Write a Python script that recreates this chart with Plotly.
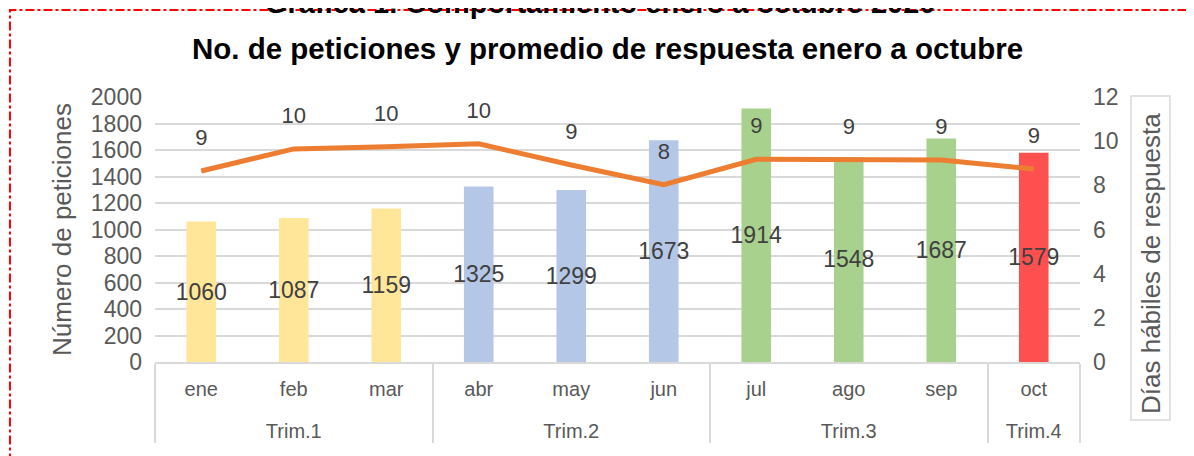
import plotly.graph_objects as go
from plotly.subplots import make_subplots

trimestres = ["Trim.1", "Trim.1", "Trim.1", "Trim.2", "Trim.2", "Trim.2",
              "Trim.3", "Trim.3", "Trim.3", "Trim.4"]
meses = ["ene", "feb", "mar", "abr", "may", "jun", "jul", "ago", "sep", "oct"]
peticiones = [1060, 1087, 1159, 1325, 1299, 1673, 1914, 1548, 1687, 1579]
dias_respuesta = [8.65, 9.65, 9.75, 9.88, 8.92, 8.03, 9.18, 9.14, 9.15, 8.74]
colores_trim = {"Trim.1": "#FFE699", "Trim.2": "#B4C7E7",
                "Trim.3": "#A9D18E", "Trim.4": "#FF5050"}

FONT = "Liberation Sans, Arial, sans-serif"
GRAY = "#595959"
DARK = "#404040"

x = [["<br>" + t for t in trimestres], meses]

fig = make_subplots(specs=[[{"secondary_y": True}]])

fig.add_trace(go.Bar(
    x=x, y=peticiones,
    marker=dict(color=[colores_trim[t] for t in trimestres], line=dict(width=0)),
    width=0.32,
    text=[str(v) for v in peticiones],
    textposition="inside", insidetextanchor="middle", textangle=0,
    constraintext="none",
    textfont=dict(family=FONT, size=23, color=DARK),
    hoverinfo="skip", showlegend=False,
), secondary_y=False)

fig.add_trace(go.Scatter(
    x=x, y=dias_respuesta, mode="lines",
    line=dict(color="#ED7D31", width=5),
    hoverinfo="skip", showlegend=False,
), secondary_y=True)

fig.add_trace(go.Scatter(
    x=x, y=dias_respuesta, mode="markers+text",
    marker=dict(size=31, color="rgba(0,0,0,0)"),
    text=[str(round(v)) for v in dias_respuesta],
    textposition="top center",
    textfont=dict(family=FONT, size=22, color=DARK),
    hoverinfo="skip", showlegend=False, cliponaxis=False,
), secondary_y=True)

fig.update_layout(
    width=1194, height=456,
    margin=dict(l=147, r=122, t=89, b=102, autoexpand=False),
    paper_bgcolor="white", plot_bgcolor="white",
    font=dict(family=FONT, color=GRAY),
    uniformtext=dict(minsize=23, mode="show"),
)

fig.update_xaxes(
    type="multicategory", range=[-0.5, 9.5], automargin=False, domain=[0, 1],
    showline=True, linecolor="#D9D9D9", linewidth=1.5,
    showdividers=True, dividercolor="#D9D9D9", dividerwidth=1.5,
    tickfont=dict(family=FONT, size=20, color=GRAY),
    ticklabelstandoff=8,
    showgrid=False, ticks="",
)

fig.update_yaxes(
    range=[0, 2000], dtick=200, showgrid=True, gridcolor="#D9D9D9", gridwidth=1.5,
    zeroline=False, showline=False, automargin=False,
    tickfont=dict(family=FONT, size=23, color=GRAY),
    ticklabelstandoff=12,
    title=dict(text="Número de peticiones", font=dict(family=FONT, size=26, color=GRAY),
               standoff=11),
    secondary_y=False,
)
fig.update_yaxes(
    range=[0, 12], dtick=2, showgrid=False, zeroline=False, showline=False,
    automargin=False,
    tickfont=dict(family=FONT, size=23, color=GRAY),
    ticklabelstandoff=12,
    secondary_y=True,
)

# chart title
fig.add_annotation(
    text="<b>No. de peticiones y promedio de respuesta enero a octubre</b>",
    xref="paper", yref="paper", x=0.489, y=1.183, xanchor="center", yanchor="middle",
    showarrow=False, font=dict(family=FONT, size=29.5, color="black"),
)
# header text partially cut at top
fig.add_annotation(
    text="<b>Gráfica 1. Comportamiento enero a octubre 2020</b>",
    xref="paper", yref="paper", x=0.481, y=1.355, xanchor="center", yanchor="middle",
    showarrow=False, font=dict(family=FONT, size=29, color="black"),
)
# secondary axis title with light box
fig.add_shape(type="rect", xref="paper", yref="paper",
              x0=1.0551, x1=1.0973, y0=-0.2189, y1=1.0038,
              line=dict(color="#D9D9D9", width=1.5), fillcolor="rgba(0,0,0,0)")
fig.add_annotation(
    text="Días hábiles de respuesta", textangle=-90,
    xref="paper", yref="paper", x=1.0768, y=0.37, xanchor="center", yanchor="middle",
    showarrow=False, font=dict(family=FONT, size=26, color=GRAY),
)
# red dash-dot frame
fig.add_shape(type="rect", xref="paper", yref="paper",
              x0=-0.1568, x1=1.2, y0=-0.5, y1=1.328,
              line=dict(color="red", width=2, dash="dashdot"), fillcolor="rgba(0,0,0,0)")

fig.write_html("out.html")
